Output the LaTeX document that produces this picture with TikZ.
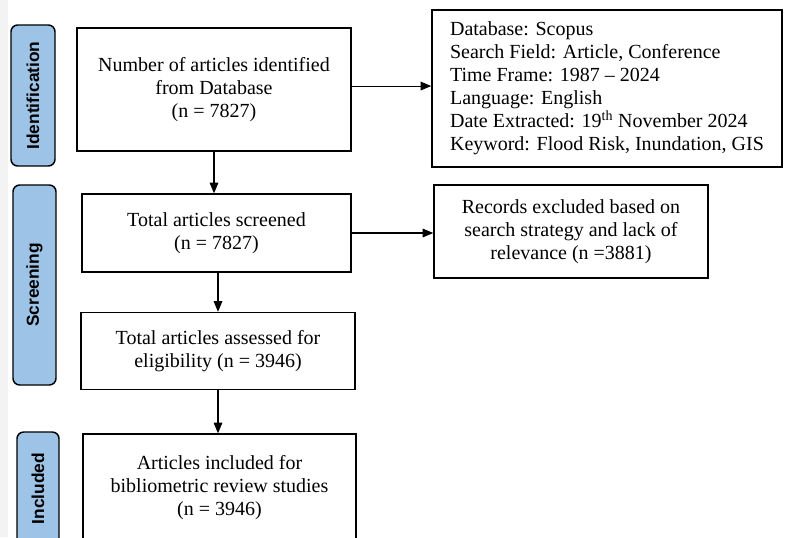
\documentclass[tikz,border=0pt]{standalone}
\usepackage{fontspec}
\setmainfont{Liberation Serif}
\newfontfamily\labelfont{Liberation Sans}
\usetikzlibrary{arrows.meta}
\definecolor{pillblue}{RGB}{157,195,230}
\definecolor{stripgray}{RGB}{243,243,243}
\begin{document}
\begin{tikzpicture}[x=0.75pt,y=-0.75pt,
  box/.style={draw, line width=1.1pt, align=center, inner sep=0pt, font=\fontsize{15}{17.3}\selectfont},
  pill/.style={draw, line width=1.1pt, fill=pillblue, rounded corners=5pt, inner sep=0pt, rotate=90,
    font=\labelfont\bfseries\fontsize{13}{15}\selectfont},
  arr/.style={line width=0.8pt, -{Triangle[length=8pt,width=6.5pt]}}]
\fill[white] (0,0) rectangle (787,537);
\fill[stripgray] (0,0) rectangle (8,537);
\useasboundingbox (0,0) rectangle (787,537);

% phase labels
\node[pill, minimum width=105.75pt, minimum height=33pt] (pid) at (33,95.5) {Identification};
\node[pill, minimum width=150pt, minimum height=32.25pt] (pscr) at (34.5,285) {Screening};
\node[pill, minimum width=84.75pt, minimum height=31.5pt] (pinc) at (38,488.5) {Included};

% main boxes
\node[box, minimum width=205.5pt, minimum height=92.25pt] (b1) at (214,89.5)
  {Number of articles identified\\from Database\\(n = 7827)};
\node[box, minimum width=201.75pt, minimum height=58.5pt] (b2) at (216.5,233)
  {Total articles screened\\(n = 7827)};
\node[box, minimum width=205.5pt, minimum height=57.75pt] (b3) at (218,351)
  {Total articles assessed for\\eligibility (n = 3946)};
\node[box, minimum width=204.75pt, minimum height=81pt] (b4) at (219.5,488)
  {Articles included for\\bibliometric review studies\\(n = 3946)};

% side boxes
\node[box, align=left, minimum width=262.5pt, minimum height=117.75pt] (info) at (607,88.5)
  {Database: Scopus\\Search Field: Article, Conference\\Time Frame: 1987 -- 2024\\Language: English\\Date Extracted: 19\textsuperscript{th} November 2024\\Keyword: Flood Risk, Inundation, GIS};
\node[box, minimum width=205.5pt, minimum height=69.75pt] (rec) at (571,231.5)
  {Records excluded based on\\search strategy and lack of\\relevance (n =3881)};

% connectors
\draw[arr] ([yshift=2.6pt]b1.east) -- ([yshift=2.6pt]b1.east -| info.west);
\draw[arr] (b2.east) -- (b2.east -| rec.west);
\draw[arr] (b1.south) -- (b1.south |- b2.north);
\draw[arr] (b3.north |- b2.south) -- (b3.north);
\draw[arr] (b3.south) -- (b3.south |- b4.north);
\end{tikzpicture}
\end{document}
